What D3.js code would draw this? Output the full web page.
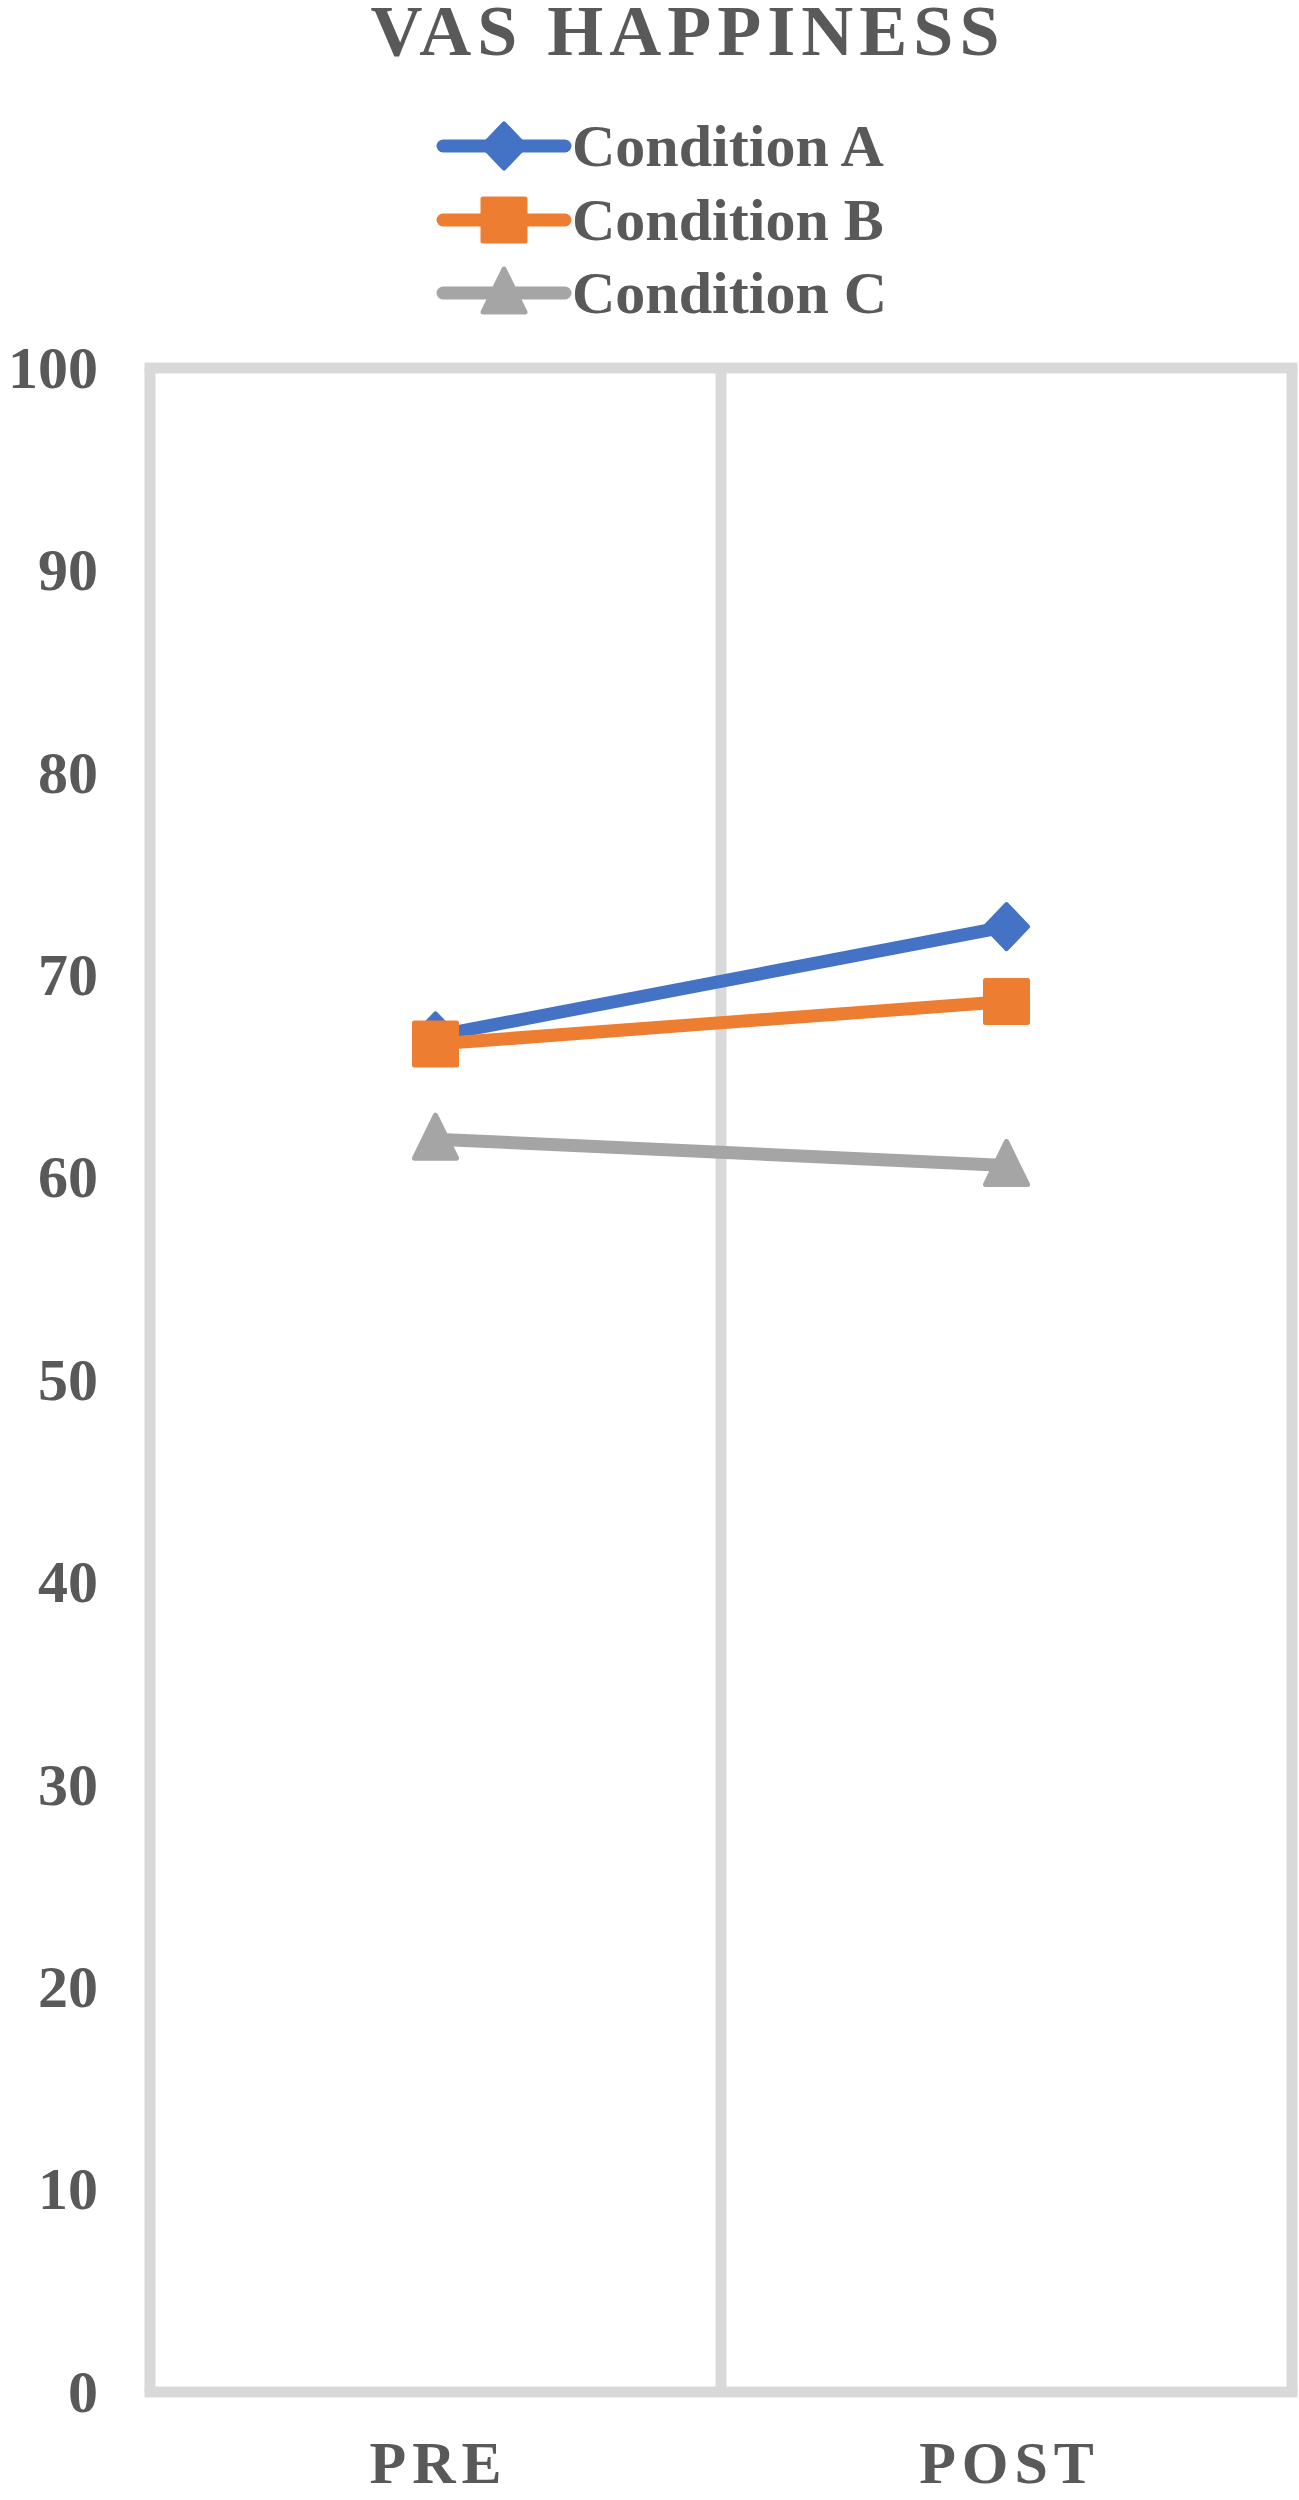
<!DOCTYPE html>
<html>
<head>
<meta charset="utf-8">
<script src="https://cdn.jsdelivr.net/npm/d3@7"></script>
<style>
  html, body { margin: 0; padding: 0; background: #fff; }
  svg { display: block; }
  text { font-family: "Liberation Serif", "Times New Roman", serif; font-weight: bold; fill: #595959; }
</style>
</head>
<body>
<script>
// ---- data ----
const categories = ["PRE", "POST"];
const seriesNames = ["Condition A", "Condition B", "Condition C"];
const conditionA = [67.0, 72.4];
const conditionB = [66.6, 68.7];
const conditionC = [61.9, 60.6];
const yTicks = [0, 10, 20, 30, 40, 50, 60, 70, 80, 90, 100];
const titleText = "VAS HAPPINESS";

const colors = ["#4472C4", "#ED7D31", "#A5A5A5"];
const shapes = ["diamond", "square", "triangle"];
const seriesValues = [conditionA, conditionB, conditionC];

const W = 1299, H = 2500;
const svg = d3.select("body").append("svg").attr("width", W).attr("height", H);

const x = d3.scaleBand().domain(categories).range([150, 1292]).padding(0);
const y = d3.scaleLinear().domain([0, 100]).range([2392, 368]);

const gridColor = "#D9D9D9";
const gridW = 11;

// frame: top line at 100, left, right, middle category divider, bottom axis
const plot = svg.append("g");
plot.append("line").attr("x1", x.range()[0] - gridW/2).attr("x2", x.range()[1] + gridW/2)
  .attr("y1", y(100)).attr("y2", y(100)).attr("stroke", gridColor).attr("stroke-width", gridW);
// vertical lines at band boundaries
const boundaries = [x.range()[0]].concat(categories.map(c => x(c) + x.bandwidth()));
plot.selectAll("line.v").data(boundaries).enter().append("line").attr("class", "v")
  .attr("x1", d => d).attr("x2", d => d)
  .attr("y1", y(100)).attr("y2", y(0))
  .attr("stroke", gridColor).attr("stroke-width", gridW);
plot.append("line").attr("x1", x.range()[0] - gridW/2).attr("x2", x.range()[1] + gridW/2)
  .attr("y1", y(0)).attr("y2", y(0)).attr("stroke", gridColor).attr("stroke-width", gridW);

// y axis labels
const yAxis = d3.axisLeft(y).tickValues(yTicks).tickSize(0).tickPadding(0);
const yg = svg.append("g").attr("transform", "translate(98,0)").call(yAxis);
yg.select(".domain").remove();
yg.selectAll("text").attr("font-size", 60).attr("font-family", "Liberation Serif")
  .attr("font-weight", "bold").attr("fill", "#595959").attr("dy", "0.32em").attr("x", 0);

// x axis labels
const xAxis = d3.axisBottom(x).tickSize(0).tickPadding(0);
const xg = svg.append("g").attr("transform", "translate(0,2483)").call(xAxis);
xg.select(".domain").remove();
xg.selectAll("text").attr("font-size", 60).attr("font-family", "Liberation Serif")
  .attr("font-weight", "bold").attr("fill", "#595959").attr("dy", 0)
  .attr("letter-spacing", "6px").attr("dx", 3);

// marker path generator
function markerPath(shape) {
  if (shape === "diamond") return "M0,-22 L21,0 L0,22 L-21,0 Z";
  if (shape === "square") return "M-21,-21 L21,-21 L21,21 L-21,21 Z";
  return "M0,-22 L21,21 L-21,21 Z";
}
const markerStroke = 5;

// series
seriesValues.forEach((vals, i) => {
  const g = svg.append("g");
  const pts = categories.map((c, j) => [x(c) + x.bandwidth() / 2, y(vals[j])]);
  g.append("path").attr("d", d3.line()(pts)).attr("fill", "none")
    .attr("stroke", colors[i]).attr("stroke-width", 13).attr("stroke-linecap", "round");
  g.selectAll("path.m").data(pts).enter().append("path").attr("class", "m")
    .attr("d", markerPath(shapes[i]))
    .attr("transform", d => `translate(${d[0]},${d[1] + (shapes[i] === "triangle" ? -2 : 0)})`)
    .attr("fill", colors[i]).attr("stroke", colors[i]).attr("stroke-width", markerStroke)
    .attr("stroke-linejoin", "round");
});

// title
svg.append("text").attr("x", 688).attr("y", 55).attr("text-anchor", "middle")
  .attr("font-size", 72).attr("letter-spacing", "6px").text(titleText);

// legend
const legendY = [146, 220, 293];
const lg = svg.append("g");
seriesNames.forEach((name, i) => {
  const g = lg.append("g").attr("transform", `translate(0,${legendY[i]})`);
  g.append("line").attr("x1", 443).attr("x2", 565).attr("y1", 0).attr("y2", 0)
    .attr("stroke", colors[i]).attr("stroke-width", 13).attr("stroke-linecap", "round");
  g.append("path").attr("d", markerPath(shapes[i]))
    .attr("transform", `translate(504,${shapes[i] === "triangle" ? -2 : 0})`)
    .attr("fill", colors[i]).attr("stroke", colors[i]).attr("stroke-width", markerStroke)
    .attr("stroke-linejoin", "round");
  g.append("text").attr("x", 572).attr("y", 0).attr("dy", "0.33em")
    .attr("font-size", 60).text(name);
});
</script>
</body>
</html>
